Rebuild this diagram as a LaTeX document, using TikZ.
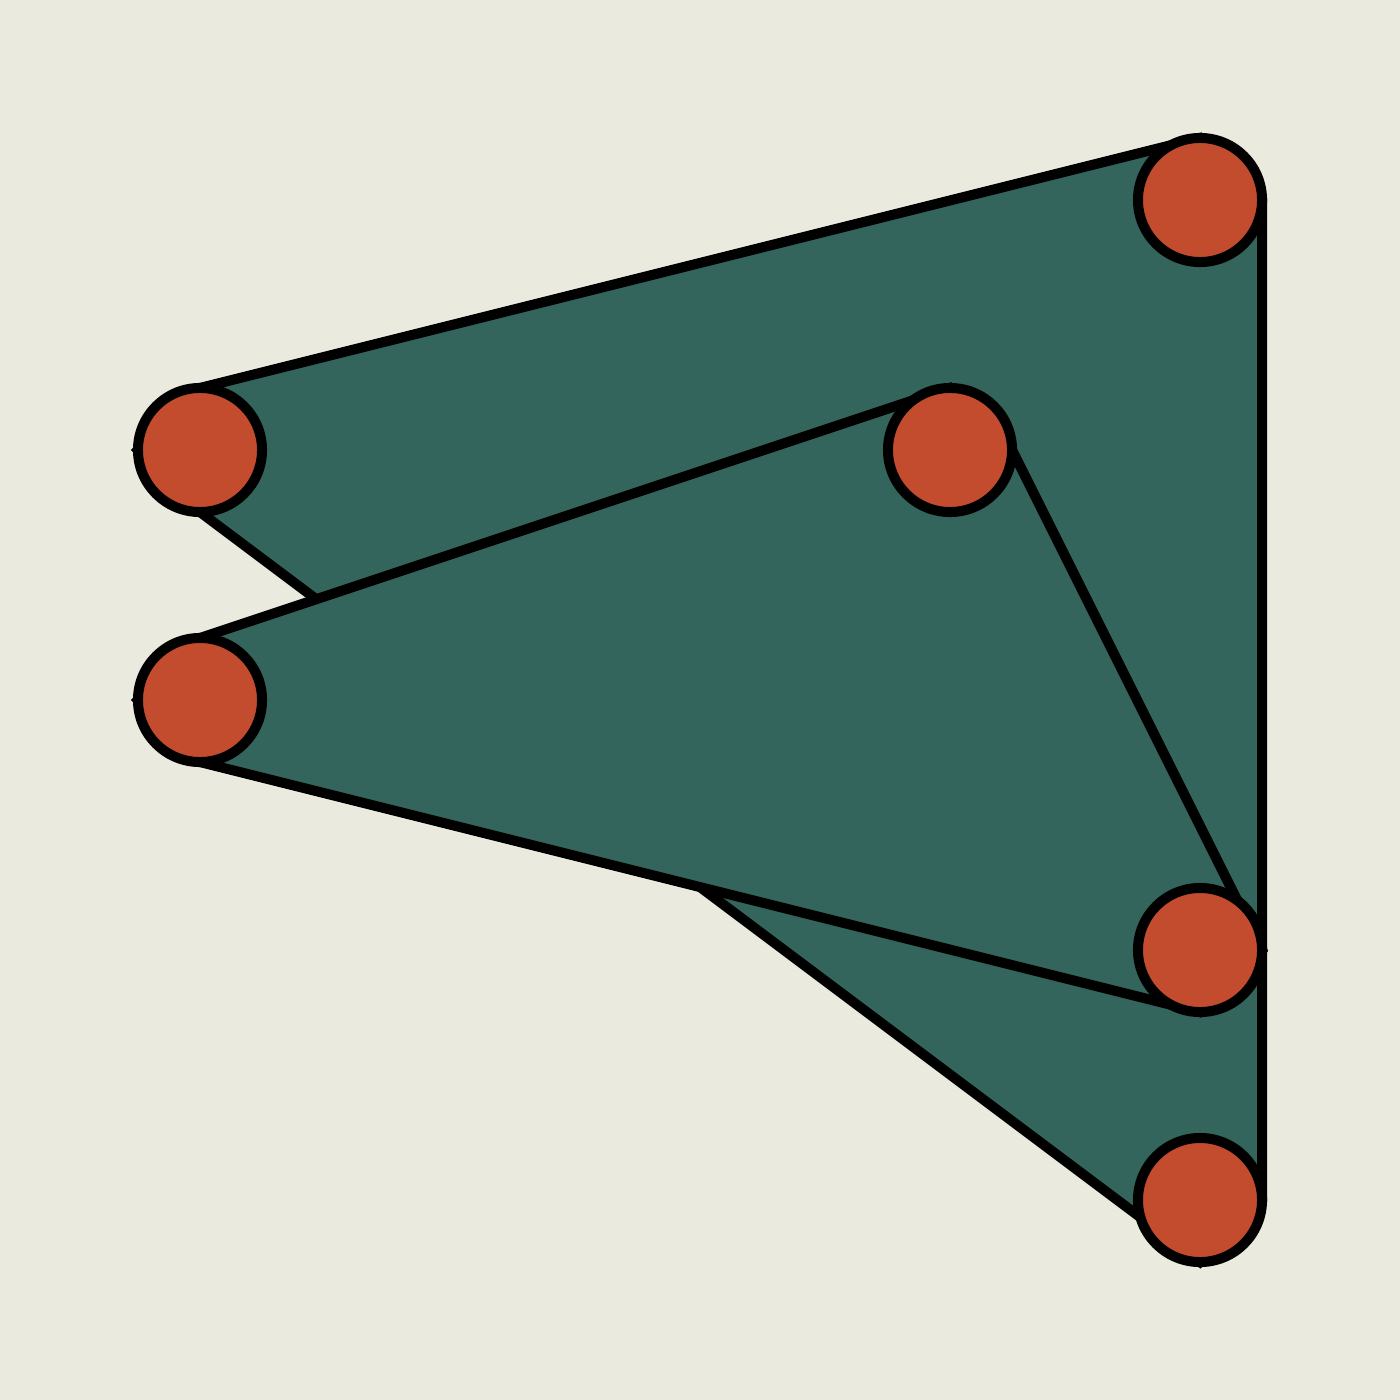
\documentclass[tikz,border=0pt]{standalone}
\definecolor{paper}{RGB}{234,234,223}
\definecolor{pine}{RGB}{52,101,92}
\definecolor{rust}{RGB}{196,76,46}
\tikzset{
  plate/.style={fill=pine,draw=black,line width=2.85pt,line join=miter},
  knot/.style={circle,fill=rust,draw=black,line width=2.85pt,minimum size=1.24cm,inner sep=0pt}
}
\begin{document}
\begin{tikzpicture}[x=0.01cm,y=-0.01cm]
            \fill[paper] (0,0) rectangle (1400,1400);
            \useasboundingbox (0,0) rectangle (1400,1400);
            \coordinate (a) at (200,450);
            \coordinate (b) at (1200,200);
            \coordinate (c) at (1200,1200);
            \coordinate (d) at (200,700);
            \coordinate (e) at (950,450);
            \coordinate (f) at (1200,950);

            % back plate
            \draw[plate] ([xshift=-0.62cm]a)--([yshift=0.62cm]a)--([yshift=0.62cm]b)--([xshift=0.62cm]b)
                --([xshift=0.62cm]c)--([yshift=-0.62cm]c)--([yshift=-0.62cm]a)--cycle;
            % front plate
            \draw[plate] ([xshift=-0.62cm]d)--([yshift=0.62cm]d)--([yshift=0.62cm]e)--([xshift=0.62cm]e)
                --([xshift=0.62cm]f)--([yshift=-0.62cm]f)--([yshift=-0.62cm]d)--cycle;

            \node[knot] (ka) at (a) {};
            \node[knot] (kb) at (b) {};
            \node[knot] (kc) at (c) {};
            \node[knot] (kd) at (d) {};
            \node[knot] (ke) at (e) {};
            \node[knot] (kf) at (f) {};
        \end{tikzpicture}
\end{document}
